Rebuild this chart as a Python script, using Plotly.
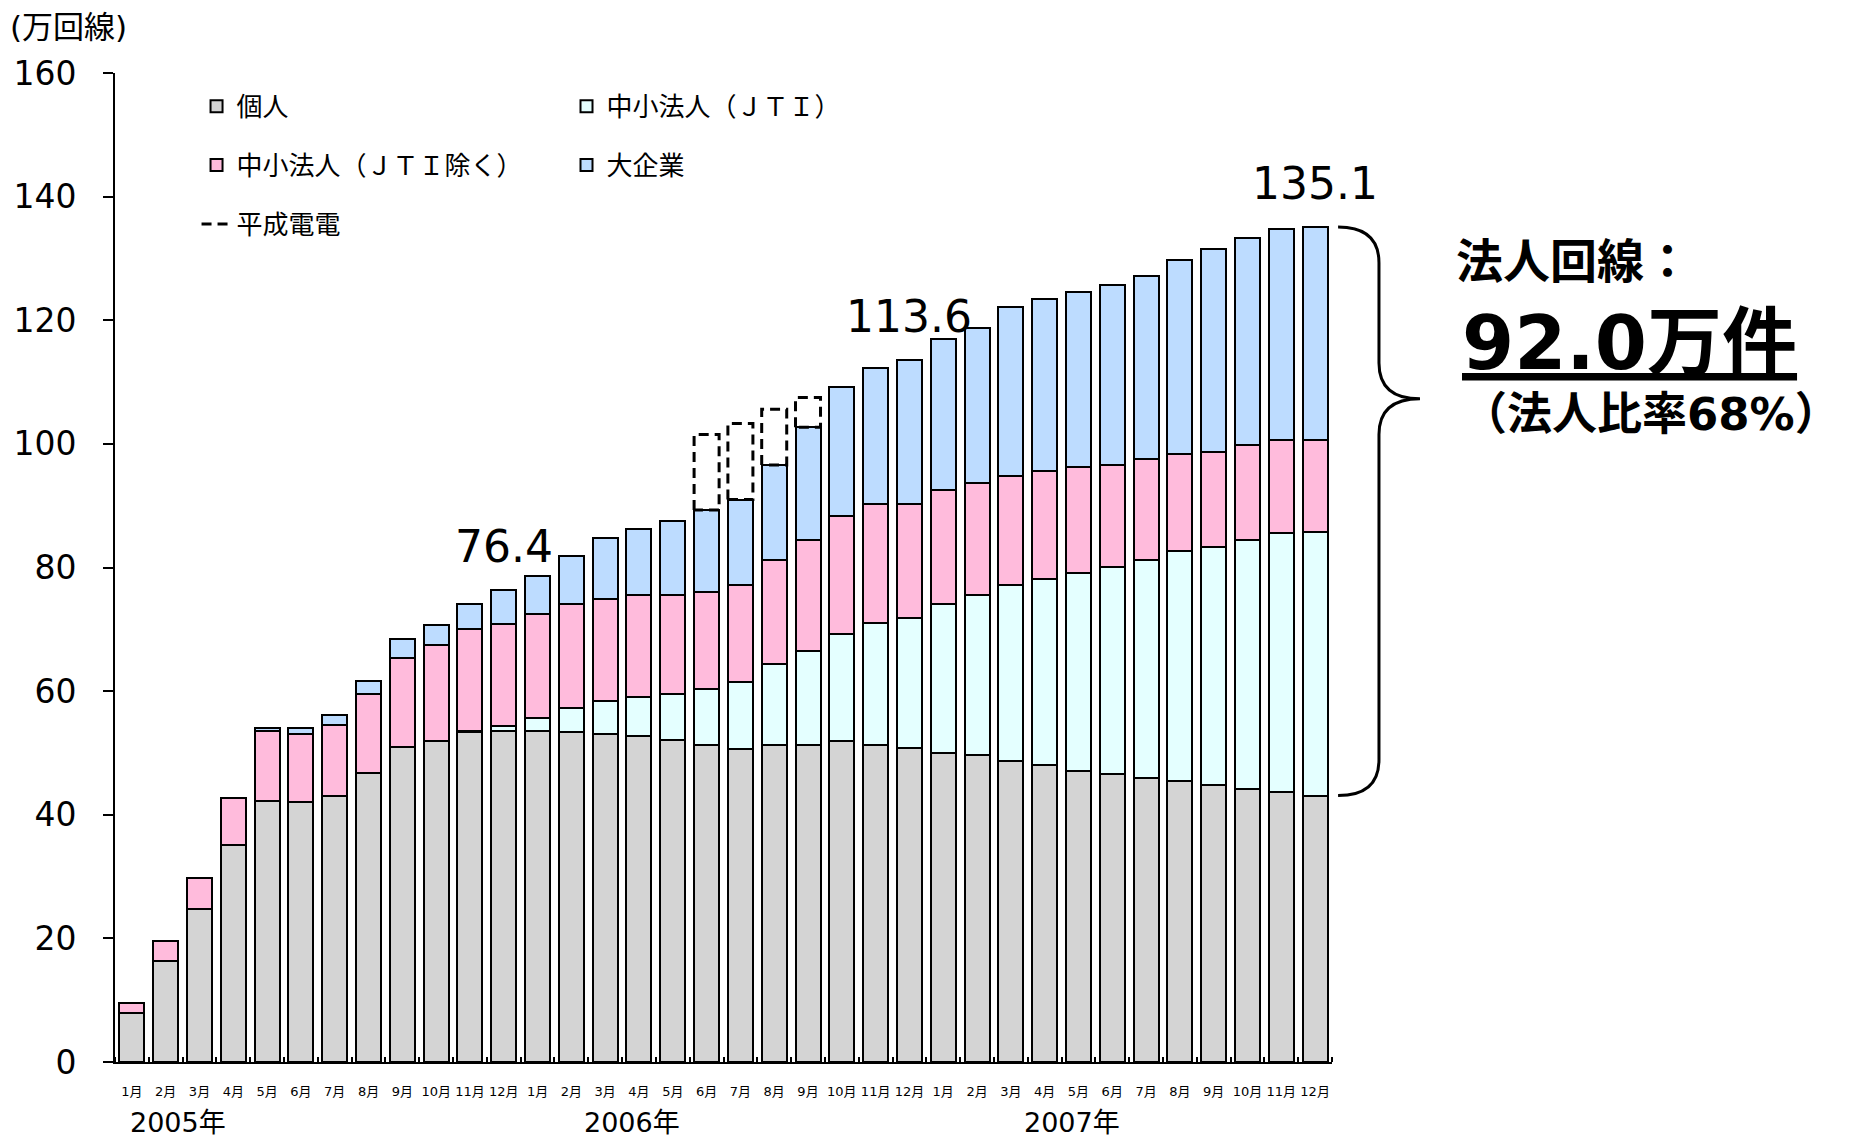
import plotly.graph_objects as go

# ---------------- data ----------------
month_labels = ["1月", "2月", "3月", "4月", "5月", "6月", "7月", "8月", "9月", "10月", "11月", "12月"] * 3
year_labels = ["2005年", "2006年", "2007年"]
year_pos = [1.35, 14.8, 27.8]

individual = [7.9, 16.3, 24.7, 35.1, 42.3, 42.0, 43.1, 46.7, 51.0, 51.9, 53.4, 53.6,
              53.6, 53.4, 53.1, 52.7, 52.1, 51.3, 50.6, 51.3, 51.3, 51.9, 51.3, 50.8,
              50.0, 49.6, 48.7, 48.1, 47.1, 46.6, 46.0, 45.4, 44.8, 44.1, 43.7, 43.1]
sme_jti = [None, None, None, None, None, None, None, None, None, None, 0.2, 0.8,
           2.1, 3.9, 5.3, 6.3, 7.5, 9.0, 10.9, 13.1, 15.2, 17.4, 19.8, 21.0,
           24.1, 25.9, 28.5, 30.1, 32.0, 33.5, 35.2, 37.2, 38.5, 40.4, 41.9, 42.7]
sme_other = [1.7, 3.2, 5.0, 7.6, 11.3, 11.1, 11.5, 12.9, 14.3, 15.5, 16.5, 16.5,
             16.7, 16.8, 16.5, 16.5, 15.9, 15.8, 15.7, 16.8, 18.0, 19.0, 19.1, 18.4,
             18.4, 18.2, 17.6, 17.4, 17.1, 16.5, 16.3, 15.7, 15.4, 15.3, 15.0, 14.8]
large_corp = [None, None, None, None, 0.4, 0.9, 1.5, 2.1, 3.1, 3.3, 4.0, 5.5,
              6.3, 7.7, 9.8, 10.7, 12.0, 13.2, 13.8, 15.4, 18.2, 20.9, 22.1, 23.4,
              24.4, 25.1, 27.4, 27.8, 28.3, 29.1, 29.7, 31.4, 32.9, 33.5, 34.1, 34.5]
heisei = [None] * 17 + [12.2, 12.3, 9.0, 4.8] + [None] * 15

label_idx = [11, 23, 35]
names = ["個人", "中小法人（ＪＴＩ）", "中小法人（ＪＴＩ除く）", "大企業", "平成電電"]

# ---------------- style ----------------
FONT = "DejaVu Sans, Noto Sans CJK JP"
colors = ["#d4d4d4", "#e4ffff", "#ffbbdc", "#bddcff"]
BAR_W = 0.74
x = list(range(len(individual)))

fig = go.Figure()
series = [individual, sme_jti, sme_other, large_corp]
legends = ["legend", "legend2", "legend", "legend2"]
for i, (vals, col, lg) in enumerate(zip(series, colors, legends)):
    fig.add_trace(go.Bar(
        x=x, y=vals, name=names[i], width=BAR_W,
        marker=dict(color=col, line=dict(color="black", width=2)),
        legend=lg, legendgroup=f"g{i}",
    ))

def v(a, k):
    return a[k] if a[k] is not None else 0

totals = [sum(v(s, k) for s in series) for k in x]

# dashed boxes for 平成電電
hx, hy = [], []
for k in x:
    if heisei[k] is None:
        continue
    b, t = totals[k], totals[k] + heisei[k]
    l, r = k - BAR_W / 2, k + BAR_W / 2
    hx += [l, l, r, r, l, None]
    hy += [b, t, t, b, b, None]
fig.add_trace(go.Scatter(
    x=hx, y=hy, mode="lines", name=names[4],
    line=dict(color="black", width=3, dash="10px,6px"),
    legend="legend", legendgroup="g4", hoverinfo="skip",
))

annotations = []
for k in label_idx:
    annotations.append(dict(
        x=k, y=totals[k], xref="x", yref="y", text=f"{totals[k]:.1f}",
        showarrow=False, yanchor="bottom", yshift=16,
        font=dict(size=44, color="black", family=FONT),
    ))
for lbl, px in zip(year_labels, year_pos):
    annotations.append(dict(
        x=px, y=-0.061, xref="x", yref="paper", text=lbl, showarrow=False,
        yanchor="middle", font=dict(size=27, color="black", family=FONT),
    ))
annotations.append(dict(
    x=-0.088, y=1.047, xref="paper", yref="paper", text="(万回線)",
    showarrow=False, xanchor="left", yanchor="middle",
    font=dict(size=31, color="black", family=FONT),
))
corp_total = totals[-1] - individual[-1]
share = round(corp_total / totals[-1] * 100)
annotations += [
    dict(x=1.1005, y=0.809, xref="paper", yref="paper", text="<b>法人回線：</b>",
         showarrow=False, xanchor="left", yanchor="middle",
         font=dict(size=47, color="black", family=FONT)),
    dict(x=1.1055, y=0.727, xref="paper", yref="paper",
         text=f"<b><u>{corp_total:.1f}万件</u></b>",
         showarrow=False, xanchor="left", yanchor="middle",
         font=dict(size=75, color="black", family=FONT)),
    dict(x=1.105, y=0.6552, xref="paper", yref="paper",
         text=f"<b>（法人比率{share}%）</b>",
         showarrow=False, xanchor="left", yanchor="middle",
         font=dict(size=45, color="black", family=FONT)),
]

# brace from individual top to total of last bar
hi, lo, tip = totals[-1], individual[-1], 107.3
xe, xs, xt = 1.005, 1.0386, 1.0723
r = 5.8
path = (f"M{xe},{hi} Q{xs},{hi} {xs},{hi - r} L{xs},{tip + r} "
        f"Q{xs},{tip} {xt},{tip} Q{xs},{tip} {xs},{tip - r} "
        f"L{xs},{lo + r} Q{xs},{lo} {xe},{lo}")
shapes = [dict(type="path", path=path, xref="paper", yref="y",
               line=dict(color="black", width=3))]

leg_common = dict(
    xanchor="left", yanchor="top", bgcolor="rgba(0,0,0,0)",
    font=dict(size=26, color="black", family=FONT),
    tracegroupgap=22, traceorder="grouped",
)
fig.update_layout(
    width=1856, height=1138,
    margin=dict(l=115, r=524, t=73, b=76),
    paper_bgcolor="white", plot_bgcolor="white",
    barmode="stack", showlegend=True,
    font=dict(family=FONT, color="black"),
    legend=dict(x=0.067, y=0.99, **leg_common),
    legend2=dict(x=0.371, y=0.99, **leg_common),
    annotations=annotations, shapes=shapes,
    xaxis=dict(
        range=[-0.5, 35.5], tickvals=x, ticktext=month_labels,
        ticks="", showline=True, linewidth=2, linecolor="black",
        showgrid=False, zeroline=False, ticklabelstandoff=16, tickangle=0,
        tickfont=dict(size=13, family=FONT, color="black"),
        minor=dict(tickmode="linear", tick0=0.5, dtick=1, ticks="inside",
                   ticklen=5, tickwidth=2, tickcolor="black", showgrid=False),
    ),
    yaxis=dict(
        range=[0, 160], dtick=20, ticks="outside", ticklen=10, tickwidth=2,
        tickcolor="black", showline=True, linewidth=2, linecolor="black",
        showgrid=False, zeroline=False, ticklabelstandoff=20,
        tickfont=dict(size=33, family=FONT, color="black"),
    ),
)

fig.write_html("out.html", config={"displayModeBar": False},
               post_script="document.body.style.margin='0';")
